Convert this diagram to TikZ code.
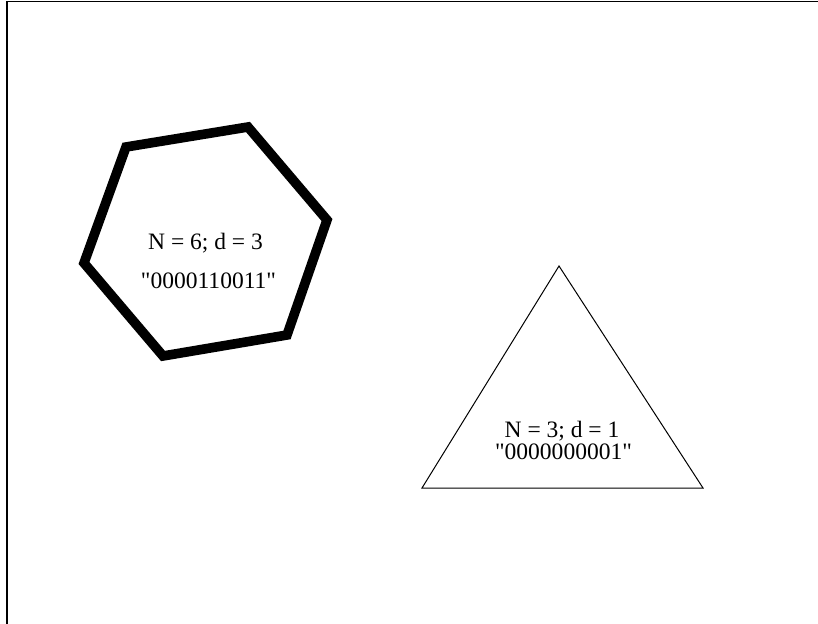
\documentclass[tikz,border=0pt]{standalone}
\usepackage{fontspec}
\setmainfont{Liberation Serif}[Ligatures=TeXOff]
\usetikzlibrary{positioning}

\begin{document}
\begin{tikzpicture}[x=0.5bp,y=-0.5bp,
		label/.style={anchor=base, inner sep=0pt, font=\fontsize{11.8}{13}\selectfont},
		hexline/.style={line width=4.8bp, line join=miter},
		triline/.style={line width=0.5bp}]
			\useasboundingbox (0,0) rectangle (818,624);
			\draw[line width=0.6bp](7,624) -- (7,1.5) -- (818,1.5);
			% hexagon
			\coordinate (h1) at (126,147);
			\coordinate (h2) at (248,127);
			\coordinate (h3) at (327,220);
			\coordinate (h4) at (287,335);
			\coordinate (h5) at (163,356);
			\coordinate (h6) at (84,263);
			\draw[hexline](h1) -- (h2) -- (h3) -- (h4) -- (h5) -- (h6) -- cycle;
			\node[label] (hexa) at (205.5,250) {N = 6; d = 3};
			\node[label] (hexb) at (208.5,289) {"0000110011"};
			% triangle
			\coordinate (t1) at (559,266);
			\coordinate (t2) at (703,488);
			\coordinate (t3) at (422,488);
			\draw[triline](t1) -- (t2) -- (t3) -- cycle;
			\node[label] (tria) at (562,437) {N = 3; d = 1};
			\node[label] (trib) at (563.5,459) {"0000000001"};
		\end{tikzpicture}
\end{document}
